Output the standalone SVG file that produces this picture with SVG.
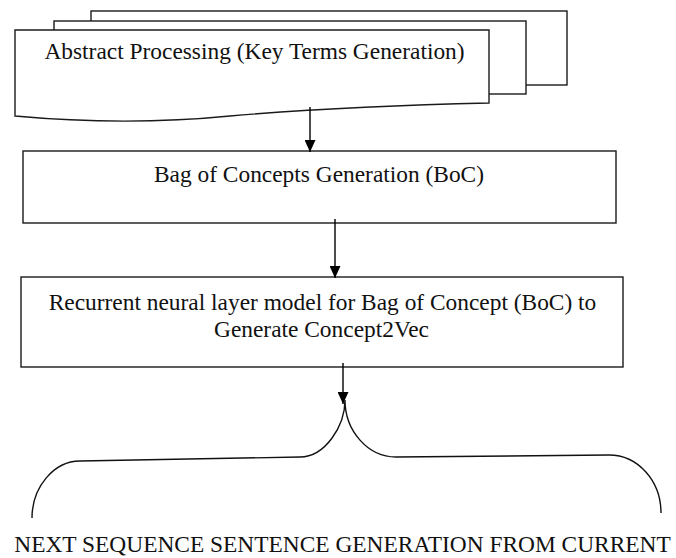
<svg xmlns="http://www.w3.org/2000/svg" width="676" height="558" viewBox="0 0 676 558">
  <style>
    .box { fill: #ffffff; stroke: #1a1a1a; stroke-width: 1.4; }
    .lbl { font-family: "Liberation Serif", "Times New Roman", serif; font-size: 23.4px; fill: #111111; text-anchor: middle; }
    .conn { fill: none; stroke: #000000; stroke-width: 1.4; }
    .brace { fill: none; stroke: #111111; stroke-width: 1.4; }
  </style>
  <defs>
    <marker id="arrow" viewBox="0 0 12 11" refX="12" refY="5.5" markerWidth="12" markerHeight="11" markerUnits="userSpaceOnUse" orient="auto">
      <path d="M0,0 L12,5.5 L0,11 z" fill="#000000"/>
    </marker>
  </defs>
  <rect width="676" height="558" fill="#ffffff"/>

  <g id="abstract-processing">
    <rect class="box" x="91" y="11" width="476" height="74"/>
    <rect class="box" x="54" y="21" width="472" height="73"/>
    <path class="box" d="M15,30 L489,30 L489,103 C400,105 300,110 230,116 C150,124 80,122 15,116 Z"/>
    <text class="lbl" x="254.5" y="59">Abstract Processing (Key Terms Generation)</text>
  </g>

  <g id="bag-of-concepts">
    <rect class="box" x="23" y="151" width="593" height="72"/>
    <text class="lbl" x="319" y="182">Bag of Concepts Generation (BoC)</text>
  </g>

  <g id="recurrent-model">
    <rect class="box" x="21" y="277" width="602" height="90"/>
    <text class="lbl" x="322.5" y="310">Recurrent neural layer model for Bag of Concept (BoC) to</text>
    <text class="lbl" x="321.5" y="337">Generate Concept2Vec</text>
  </g>

  <g id="next-sequence">
    <path class="brace" d="M32,518 C32,487 54,461 80,461 L300,457 C325,457 345,426 345,400 C345,431 368,457 396,457 L609,455 C638,455 661,481 661,513"/>
    <text class="lbl" x="342.5" y="552">NEXT SEQUENCE SENTENCE GENERATION FROM CURRENT</text>
  </g>

  <g id="connectors">
    <line class="conn" x1="310" y1="107" x2="310" y2="152" marker-end="url(#arrow)"/>
    <line class="conn" x1="335" y1="219" x2="335" y2="278" marker-end="url(#arrow)"/>
    <line class="conn" x1="343" y1="363" x2="343" y2="404" marker-end="url(#arrow)"/>
  </g>
</svg>
